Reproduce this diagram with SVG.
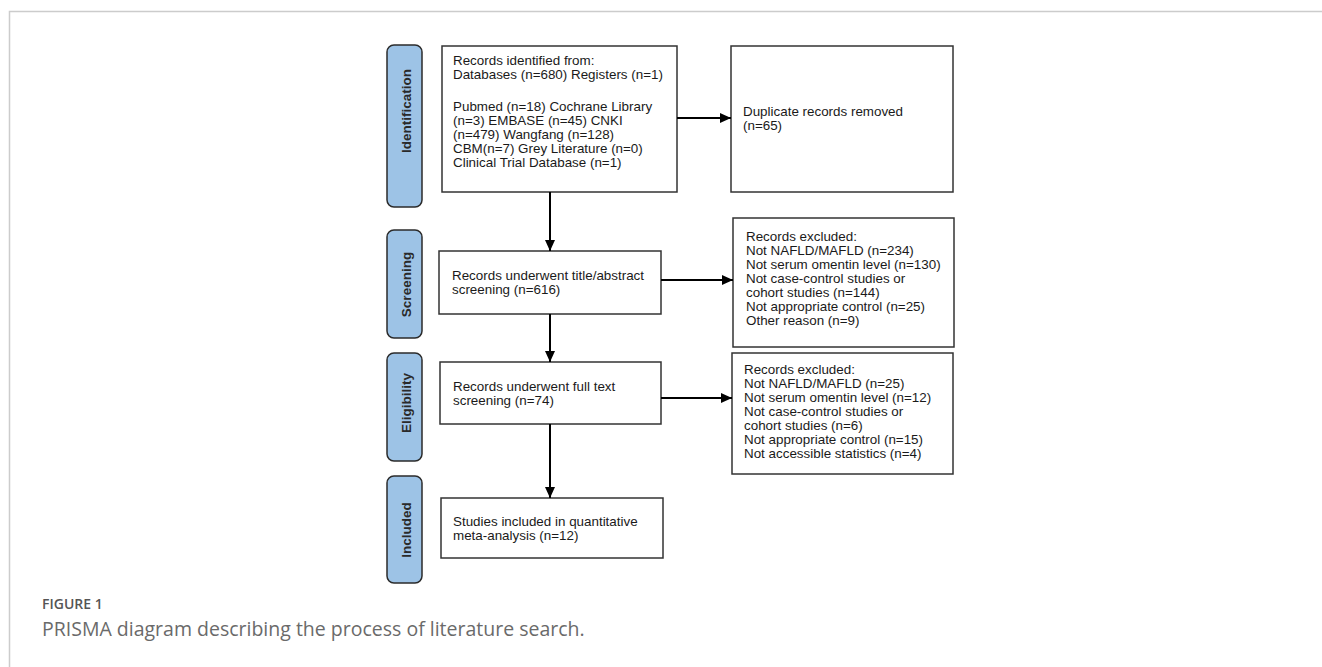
<svg xmlns="http://www.w3.org/2000/svg" width="1322" height="667" viewBox="0 0 1322 667">
<style>
.bg{fill:#ffffff}
.frame{stroke:#cccccc;stroke-width:1.5;fill:none}
.box{fill:#ffffff;stroke:#333333;stroke-width:1.5}
.pill{fill:#9dc3e6;stroke:#2b2b2b;stroke-width:1.5}
.t{font-family:"Liberation Sans",Arial,sans-serif;font-size:13.4px;fill:#1a1a1a}
.pt{font-family:"Liberation Sans",Arial,sans-serif;font-size:13.5px;font-weight:bold;fill:#2a2a2a;text-anchor:middle}
.edge{stroke:#000000;stroke-width:2;fill:none;marker-end:url(#ah)}
.cap1{font-family:"Open Sans","Liberation Sans",sans-serif;font-size:14px;font-weight:600;fill:#555555}
.cap2{font-family:"Open Sans","Liberation Sans",sans-serif;font-size:19.5px;fill:#6a6a6a}
</style>
<defs>
<marker id="ah" markerUnits="userSpaceOnUse" markerWidth="11" markerHeight="10" refX="11" refY="5" orient="auto">
<path d="M0,0 L11,5 L0,10 z" fill="#000000"/>
</marker>
</defs>
<rect class="bg" x="0" y="0" width="1322" height="667"/>
<path class="frame" d="M9.5,667 V11.5 H1322"/>

<g id="stage-identification">
<rect class="pill" x="387" y="45" width="35" height="162" rx="7"/>
<text class="pt" transform="translate(411,111) rotate(-90)">Identification</text>
</g>
<g id="stage-screening">
<rect class="pill" x="387" y="230" width="35" height="108" rx="7"/>
<text class="pt" transform="translate(411,284.5) rotate(-90)">Screening</text>
</g>
<g id="stage-eligibility">
<rect class="pill" x="387" y="353" width="35" height="108" rx="7"/>
<text class="pt" transform="translate(411,403) rotate(-90)">Eligibility</text>
</g>
<g id="stage-included">
<rect class="pill" x="387" y="476" width="35" height="107" rx="7"/>
<text class="pt" transform="translate(411,530) rotate(-90)">Included</text>
</g>

<g id="identified">
<rect class="box" x="442" y="46" width="235" height="146"/>
<text class="t" x="453" y="65">Records identified from:</text>
<text class="t" x="453" y="79">Databases (n=680) Registers (n=1)</text>
<text class="t" x="453" y="111">Pubmed (n=18) Cochrane Library</text>
<text class="t" x="453" y="125">(n=3) EMBASE (n=45) CNKI</text>
<text class="t" x="453" y="139">(n=479) Wangfang (n=128)</text>
<text class="t" x="453" y="153">CBM(n=7) Grey Literature (n=0)</text>
<text class="t" x="453" y="167">Clinical Trial Database (n=1)</text>
</g>
<g id="duplicates">
<rect class="box" x="731" y="46" width="222" height="146"/>
<text class="t" x="743" y="116">Duplicate records removed</text>
<text class="t" x="743" y="130">(n=65)</text>
</g>
<g id="screened">
<rect class="box" x="439" y="251" width="222" height="63"/>
<text class="t" x="452" y="280">Records underwent title/abstract</text>
<text class="t" x="452" y="294">screening (n=616)</text>
</g>
<g id="excluded1">
<rect class="box" x="733" y="218" width="221" height="129"/>
<text class="t" x="746" y="241">Records excluded:</text>
<text class="t" x="746" y="255">Not NAFLD/MAFLD (n=234)</text>
<text class="t" x="746" y="269">Not serum omentin level (n=130)</text>
<text class="t" x="746" y="283">Not case-control studies or</text>
<text class="t" x="746" y="297">cohort studies (n=144)</text>
<text class="t" x="746" y="311">Not appropriate control (n=25)</text>
<text class="t" x="746" y="325">Other reason (n=9)</text>
</g>
<g id="fulltext">
<rect class="box" x="440" y="362" width="221" height="62"/>
<text class="t" x="453" y="391">Records underwent full text</text>
<text class="t" x="453" y="405">screening (n=74)</text>
</g>
<g id="excluded2">
<rect class="box" x="732" y="353" width="221" height="121"/>
<text class="t" x="744" y="374">Records excluded:</text>
<text class="t" x="744" y="388">Not NAFLD/MAFLD (n=25)</text>
<text class="t" x="744" y="402">Not serum omentin level (n=12)</text>
<text class="t" x="744" y="416">Not case-control studies or</text>
<text class="t" x="744" y="430">cohort studies (n=6)</text>
<text class="t" x="744" y="444">Not appropriate control (n=15)</text>
<text class="t" x="744" y="458">Not accessible statistics (n=4)</text>
</g>
<g id="included">
<rect class="box" x="441" y="498" width="222" height="60"/>
<text class="t" x="453" y="526">Studies included in quantitative</text>
<text class="t" x="453" y="540">meta-analysis (n=12)</text>
</g>

<g id="connectors">
<path class="edge" d="M550,192 V251"/>
<path class="edge" d="M677,118 H731"/>
<path class="edge" d="M661,280 H733"/>
<path class="edge" d="M550,314 V362"/>
<path class="edge" d="M661,398 H732"/>
<path class="edge" d="M550,424 V498"/>
</g>

<g id="caption">
<text class="cap1" x="42" y="609">FIGURE 1</text>
<text class="cap2" x="42" y="636">PRISMA diagram describing the process of literature search.</text>
</g>
</svg>
